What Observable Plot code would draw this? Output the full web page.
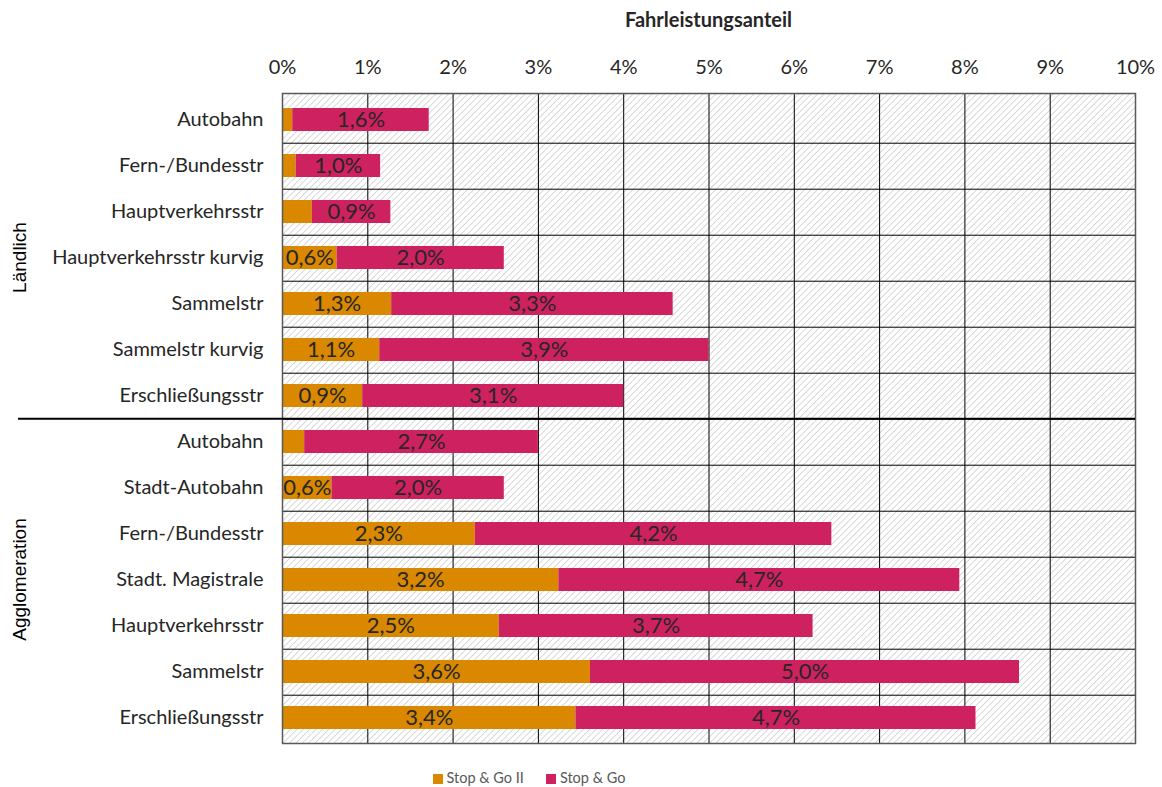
<!DOCTYPE html>
<html>
<head>
<meta charset="utf-8">
<script src="https://cdn.jsdelivr.net/npm/d3@7"></script>
<script src="https://cdn.jsdelivr.net/npm/@observablehq/plot@0.6"></script>
<style>
  html, body { margin: 0; padding: 0; background: #fff; }
  #chart { width: 1162px; }
  .legend { height: 50px; display: flex; justify-content: center; align-items: center; gap: 22px;
            font-family: Lato, "Open Sans", sans-serif; font-size: 14.5px; color: #595959; padding-right: 104px; }
  .legend span.sw { display: inline-block; width: 10px; height: 10px; margin-right: 4px; vertical-align: -1px; }
</style>
</head>
<body>
<div id="chart"></div>
<script>
// ---- data ----
const areas = ["Ländlich","Ländlich","Ländlich","Ländlich","Ländlich","Ländlich","Ländlich",
               "Agglomeration","Agglomeration","Agglomeration","Agglomeration","Agglomeration","Agglomeration","Agglomeration"];
const roadTypes = ["Autobahn","Fern-/Bundesstr","Hauptverkehrsstr","Hauptverkehrsstr kurvig","Sammelstr","Sammelstr kurvig","Erschließungsstr",
                   "Autobahn","Stadt-Autobahn","Fern-/Bundesstr","Stadt. Magistrale","Hauptverkehrsstr","Sammelstr","Erschließungsstr"];
const stopGoII = [0.12, 0.16, 0.35, 0.64, 1.28, 1.14, 0.94, 0.26, 0.58, 2.26, 3.24, 2.54, 3.61, 3.44];
const stopGo   = [1.60, 0.99, 0.92, 1.96, 3.30, 3.86, 3.06, 2.74, 2.02, 4.18, 4.70, 3.68, 5.03, 4.69];
const xTicks = [0,1,2,3,4,5,6,7,8,9,10];
const seriesNames = ["Stop & Go II", "Stop & Go"];
const seriesColors = ["#D98800", "#CE2260"];
const axisTitle = "Fahrleistungsanteil";
const minLabel = 0.5;

const keys = roadTypes.map((r, i) => areas[i] + "|" + r);
const rows = keys.map((k, i) => ({key: k, area: areas[i], road: roadTypes[i], a: stopGoII[i], b: stopGo[i]}));
const fmt = v => v.toFixed(1).replace(".", ",") + "%";

const W = 1162, H = 752, mt = 93, mb = 9, ml = 282, mr = 27;
const step = (H - mt - mb) / keys.length;
const font = "Lato, 'Open Sans', sans-serif";

const plot = Plot.plot({
  width: W, height: H,
  marginLeft: ml, marginRight: mr, marginTop: mt, marginBottom: mb,
  style: {fontFamily: font, fontSize: "20px", color: "#262626", background: "#fff"},
  x: {domain: [0, 10], axis: "top", ticks: xTicks, tickFormat: d => d + "%", tickSize: 0, tickPadding: 20,
      label: null},
  y: {domain: keys, paddingInner: 0.5, paddingOuter: 0.25, tickSize: 0, tickPadding: 19,
      tickFormat: k => k.split("|")[1], label: null},
  marks: [
    Plot.frame({fill: "url(#hatch)"}),
    Plot.gridX(xTicks, {stroke: "#000", strokeOpacity: 1, strokeWidth: 1}),
    Plot.ruleY(keys.slice(0, -1), {dy: step / 2, stroke: "#000", strokeWidth: 1}),
    Plot.barX(rows, {y: "key", x1: 0, x2: "a", fill: seriesColors[0]}),
    Plot.barX(rows, {y: "key", x1: "a", x2: d => d.a + d.b, fill: seriesColors[1]}),
    Plot.text(rows.filter(d => d.a >= minLabel), {y: "key", x: d => d.a / 2, text: d => fmt(d.a),
      fill: "#262626", fontSize: 22}),
    Plot.text(rows, {y: "key", x: d => d.a + d.b / 2, text: d => fmt(d.b), fill: "#262626", fontSize: 22}),
    Plot.frame({stroke: "#595959", strokeWidth: 1.5})
  ]
});

const svg = d3.select(plot);
// hatch pattern
const defs = svg.insert("defs", ":first-child");
const pat = defs.append("pattern").attr("id", "hatch").attr("patternUnits", "userSpaceOnUse")
  .attr("width", 4.5).attr("height", 4.5).attr("patternTransform", "rotate(45)");
pat.append("rect").attr("width", 4.5).attr("height", 4.5).attr("fill", "#fff");
pat.append("line").attr("x1", 0).attr("y1", 0).attr("x2", 0).attr("y2", 4.5)
  .attr("stroke", "#c8c8c8").attr("stroke-width", 1.4);

// axis title
svg.append("text").attr("x", ml + (W - ml - mr) / 2).attr("y", 27).attr("text-anchor", "middle")
  .attr("font-family", font).attr("font-weight", "bold").attr("font-size", 20).attr("fill", "#262626")
  .text(axisTitle);

// group separator and group labels
const ys = plot.scale("y");
const yC = k => ys.apply(k) + ys.bandwidth / 2;
const sepY = yC(keys[6]) + step / 2;
svg.append("line").attr("x1", 18).attr("x2", W - mr).attr("y1", sepY).attr("y2", sepY)
  .attr("stroke", "#000").attr("stroke-width", 2);
const groups = [...new Set(areas)];
groups.forEach(g => {
  const ks = keys.filter((k, i) => areas[i] === g);
  const cy = (yC(ks[0]) + yC(ks[ks.length - 1])) / 2;
  svg.append("text").attr("transform", `translate(26,${cy}) rotate(-90)`)
    .attr("text-anchor", "middle").attr("font-family", "'Liberation Sans', Arial, sans-serif")
    .attr("font-size", 19).attr("fill", "#000").text(g);
});

document.getElementById("chart").appendChild(plot);

const legend = d3.select("#chart").append("div").attr("class", "legend");
seriesNames.forEach((n, i) => {
  const it = legend.append("div");
  it.append("span").attr("class", "sw").style("background", seriesColors[i]);
  it.append("span").text(n);
});
</script>
</body>
</html>
